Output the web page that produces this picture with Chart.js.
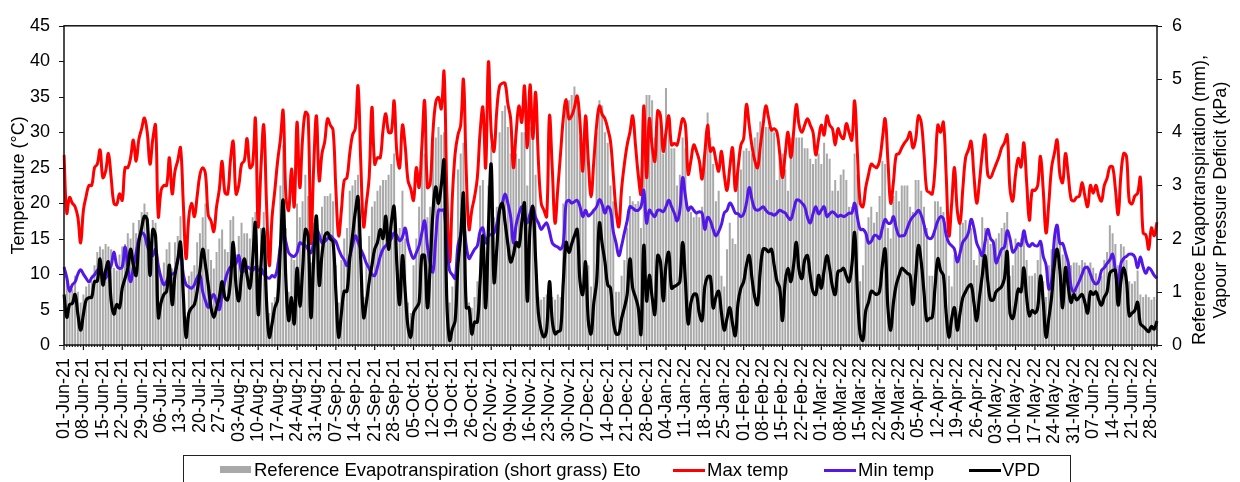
<!DOCTYPE html>
<html>
<head>
<meta charset="utf-8">
<script src="https://cdn.jsdelivr.net/npm/chart.js@4.4.1/dist/chart.umd.min.js"></script>
<style>
  html, body { margin: 0; padding: 0; background: #fff; overflow: hidden; }
  #wrap { position: relative; width: 1240px; height: 482px; font-family: "Liberation Sans", Arial, sans-serif; }
  #chart { position: absolute; left: 0; top: 0; }
  .legendBox { position: absolute; left: 183px; top: 455px; width: 888px; height: 40px; border: 1px solid #222; box-sizing: border-box; }
  .legItem { position: absolute; top: 461px; font-size: 18.5px; line-height: 18.5px; color: #000; white-space: nowrap; }
  .swatch { position: absolute; }
</style>
</head>
<body>
<div id="wrap">
  <canvas id="chart" width="1240" height="482"></canvas>
  <div class="legendBox"></div>
  <div class="swatch" style="left:220px;top:466px;width:31px;height:7px;background:#a9a9a9"></div>
  <div class="legItem" style="left:254px">Reference Evapotranspiration (short grass) Eto</div>
  <div class="swatch" style="left:673px;top:469px;width:32px;height:3px;background:#ff0000"></div>
  <div class="legItem" style="left:707px">Max temp</div>
  <div class="swatch" style="left:824px;top:469px;width:32px;height:3px;background:#5318e8"></div>
  <div class="legItem" style="left:858px">Min temp</div>
  <div class="swatch" style="left:969px;top:469px;width:32px;height:3px;background:#000"></div>
  <div class="legItem" style="left:1002px">VPD</div>
</div>
<script>
// daily series, 01-Jun-21 .. 30-Jun-22
var startDate = new Date(2021, 5, 1);
var dayCount = 395;
var monthNames = ["Jan","Feb","Mar","Apr","May","Jun","Jul","Aug","Sep","Oct","Nov","Dec"];

var maxTemp = [
  26.8,18.6,20.8,20,19.5,18,14.4,19,21,22.5,
  22.5,25,25.5,27.5,23.6,24.5,27,23.6,20,19.8,
  21.3,20.4,25,25,26.4,28.9,25.9,29,30.5,32,
  30,25.5,29,31,18.1,21.8,22.5,22.5,26.4,21.3,
  24.5,26,27.8,20,12.2,18,20,18.1,21,24,
  25,24.1,18.3,17.5,16,19.5,22,25.9,21.5,21.3,
  26,28.7,21.3,22.5,25.5,26,29.1,25,25.5,31.9,
  16.7,25,31,20,11.2,18,21.8,25.9,29,33,
  20.9,19,24.8,19.5,31.4,22.2,29.1,32.8,32.3,14.4,
  25,32.3,23.2,27,28.7,31.9,31,30.3,22,15.4,
  19,23.2,23.6,27,29.6,30.5,36.5,25.5,16.7,20,
  23.6,33.5,25.5,26.4,26.4,30.3,32.6,30,30,34.4,
  27,25,31,28,23.2,22,20.4,25,22.2,28,
  34.4,22.2,22.7,30,34.2,34.9,33.3,38.5,21.8,11.7,
  20.9,27,29.6,31,37.4,24.5,16.3,19,20.9,23.6,
  30,33.5,25,39.9,30,27.3,33,36.5,36.9,36.9,
  34,31.9,25,30,33.7,31.4,36.5,27.8,36.7,29.1,
  35.6,26,20,19,18.1,32.3,25,17.2,22,27,
  32,34.6,31.9,32.3,33.5,35.1,31.4,24.5,32.3,26,
  20.9,26,31,33.7,32.5,31.9,30.5,28.7,24,19,
  16.7,22,25.5,28.2,30,32.3,28.2,24,21.3,33.7,
  23.6,31.9,28,25.9,33,32.3,27.3,30,32.3,28.2,
  28.4,28.2,30,31.9,31,24.1,26,28.2,27.3,26,
  23.4,27,31,27.3,27.8,26,24.5,27.3,24,21.8,
  25,27.8,21.8,25,28.2,29.1,33.9,31,28,26,
  25,28,31,33.7,32,30.3,30.5,30,27,23.6,
  27,30,26.4,30,33.9,31,30,31,31.9,31,
  30,26.8,29,31,29.6,32.3,31,30.5,28.2,30.5,
  29.5,29.1,31.2,30,28.9,34.4,27,20,19.5,22.2,
  24,25.5,25.2,25,26,29,31.9,26,20,23,
  26.8,27,27.8,28.5,29,30,27.8,29,32.3,31.4,
  27,21.8,21.5,21.3,25,31,30,31.4,24,15.4,
  20,25,19,17.2,22,26.4,27.5,28.7,24,20,
  23,27,29.6,24,23.6,24.5,25.5,26.5,27.8,28.5,
  29.6,22,20.3,24,26.3,25.1,28.5,23,17.6,21.8,
  21.8,22.5,26.6,21.8,15.8,20,25,27,28.9,24,
  22.9,27,24,20.6,20.3,20.8,21,22.9,21,19.5,
  22.5,21.4,22.5,21,20.3,22.5,23.5,25.1,25.1,22,
  18.4,24,27,26.6,20.3,19.9,21,21.4,23.6,15.8,
  15.5,13.5,16.5,15.4,17.3
];

var minTemp = [
  11,9.5,7.6,8.5,8.9,10,10.6,10,9.4,8.9,
  9.5,9.9,10.5,10.8,10,9.4,10.5,11.2,13.1,11.2,
  10.8,11,13.8,11,8.9,11,13,15,15.8,15.5,
  14,13,12.6,13.5,11.2,9.5,8.5,9,9.9,10,
  10.3,12,13.1,10,8.5,8.2,8,8.5,9.5,9.9,
  7.5,6.2,5.3,6.5,7.1,6,5,7.1,9,10.3,
  11,11.2,11.5,12.6,10.3,10.5,11,10.8,10.5,11,
  10.5,10.8,10,9.6,9.4,9.8,9.6,11,14,15.8,
  14.5,13,12.6,12.5,13,14.4,14.2,14,13.5,13,
  14.5,16.3,15.5,14.4,14.6,15,15.4,15,14.6,13.5,
  12.6,12,11.2,12.5,14,15.4,14.5,13.5,12.6,11.5,
  10.8,10,9.8,11,12.5,13.5,14,14.4,15,15.8,
  15.4,14.7,15.2,16.5,14.4,13,12.2,13,14,15.8,
  17.5,14,11.5,10.3,15,19,19,19,14,10.5,
  9.9,9.4,14,15.5,17.2,14,12.2,12.8,13.5,14,
  16,16.5,14.4,15.4,15.6,15.8,17,19,20,21.3,
  20,18.1,14.4,17,18.5,19.5,18.5,17.2,18.5,19.5,
  18,17.2,16.3,16.8,17.2,16,14.4,14,13.8,13.5,
  14.4,20,20.4,20,20.2,20.4,19.5,18.1,19,18.2,
  18.5,19,19.5,20.5,19.8,18.6,19.5,19,16,14.4,
  12.6,14,15.8,17.5,19.5,19.3,19,19,19.5,21.8,
  17.2,19,18.5,18.1,19,19,18.8,19.5,20.4,19.5,
  18.6,17.5,19,23.6,21,19,19.5,19,18.6,18.8,
  18.6,16.3,18,17.5,16.3,15.4,16,17,18.6,19,
  20,19.5,18.6,18.5,18.1,18.5,20,22.2,20.5,19.2,
  19,19.2,19.5,19,18.6,18.5,18.3,18.6,19,18.8,
  18.6,18,17.7,19,20.4,20.4,20,19.5,18,17.2,
  18.5,19.5,18.5,19,19.5,18.1,18.5,18.8,18.5,18.1,
  18.3,18.1,18.3,18.6,18.6,20,18,16.3,16.3,15.8,
  14.4,14.6,15.4,15.4,15,16.5,17.7,17.2,17.2,18.1,
  16.5,15.4,15.4,15.5,16.5,17.5,18.1,18.5,19,18.3,
  17,15.4,15,15.2,16.3,17.5,18.1,17.8,15.5,14.4,
  14,13.5,11.7,13,14.5,15,15.8,17.7,16.5,14.4,
  13.5,12.6,14.5,16.3,15,14.5,11.6,12.5,13.5,13.8,
  16.1,15,13.1,13.5,14.3,14,16.1,14.5,13.9,14.3,
  14,14,14.6,12.5,11.3,7.9,9,15,16.9,14.3,
  14.3,13,11.6,8.3,7.5,8.2,9,10,10.9,10.9,
  10,9,8.6,9,10.5,10.9,11.5,12,12.8,10.5,
  8.3,11.5,12.2,12.5,12.8,12.8,12.4,10.9,12.4,11,
  10.1,10.9,10.5,9.8,9.4
];

var vpd = [
  0.95,0.52,0.76,0.78,0.95,0.58,0.28,0.58,0.85,0.89,
  0.9,1.19,1.2,1.62,1.13,1.4,1.56,0.83,0.58,0.76,
  0.7,1.07,1.25,1.44,1.8,1.5,1.31,1.93,2.2,2.42,
  2.35,1.31,2.17,2.05,0.52,0.8,0.95,1.01,1.5,0.76,
  1.31,1.6,1.93,0.95,0.15,0.6,0.7,0.76,1.01,1.4,
  1.8,1.5,1.13,0.7,0.52,0.7,0.9,1.19,0.89,0.85,
  1.2,1.93,1.13,0.83,1.3,1.62,1.3,1.07,1.6,2.29,
  0.58,1.5,2.17,0.83,0.15,0.4,0.7,0.85,1.8,2.72,
  1.2,0.46,0.89,0.4,1.44,0.73,1.4,2.17,2.05,0.52,
  1.6,2.42,1.13,1.7,2.05,2.11,2,1.93,1,0.15,
  0.6,1.01,1.01,1.62,2.05,2.5,2.78,1.56,0.52,0.8,
  1.19,1.5,1.8,1.93,2.17,2,2.42,1.8,2.3,2.6,
  1.5,0.76,1.68,1,0.34,0.15,0.6,0.7,0.8,1.68,
  1.68,0.7,1.5,2.5,2.97,2.66,3,3.46,0.83,0.09,
  0.3,0.46,1.5,2.05,2.84,0.7,0.7,0.21,0.43,0.43,
  1.2,2.05,0.7,2.2,3.39,1.19,1.8,2.54,2.66,2.3,
  1.9,1.56,1.7,1.93,1.85,2.3,2.66,0.83,2.2,2.6,
  1.62,0.6,0.28,0.15,0.3,1.19,0.46,0.21,0.25,0.28,
  1.2,1.93,1.74,1.9,2.05,2.17,1.2,0.95,1.56,0.46,
  0.21,0.8,1.19,2.29,1.9,1.56,1.13,1.07,0.46,0.21,
  0.21,0.5,0.7,0.95,1.62,1.07,0.9,0.7,0.21,1.87,
  0.83,1.31,0.9,0.58,1.68,1.56,0.83,1.5,1.74,1.07,
  1.1,1.13,1.19,1.93,1.2,0.4,0.8,0.95,0.95,0.6,
  0.46,1.1,1.28,1.28,0.7,0.9,1.01,0.6,0.28,0.5,
  0.7,0.4,0.18,0.8,1.07,1.19,1.5,1.68,1.25,0.9,
  0.76,1.4,1.8,1.8,1.75,1.8,1.5,1.2,1.07,0.46,
  1.2,1.44,1.19,1.5,1.93,1.4,1.25,1.6,1.68,1.3,
  1,0.95,1.31,1.07,1.4,1.68,1.44,1.1,0.95,1.38,
  1.4,1.44,1.3,1.19,1.5,2.11,1,0.2,0.09,0.64,
  0.8,1.01,0.98,0.95,1.01,1.5,1.8,0.7,0.28,0.8,
  1.13,1.3,1.44,1.4,1.35,1.31,0.76,1.3,1.87,1.56,
  1,0.46,0.5,0.52,1.1,1.62,1.4,1.31,0.6,0.15,
  0.5,0.7,0.28,0.6,0.89,1,1.1,1.13,0.8,0.46,
  0.9,1.3,1.68,1.2,0.85,0.85,1,1.05,1.1,1.25,
  1.75,0.6,0.5,0.75,1.05,1,1.45,0.9,0.55,0.65,
  0.6,0.7,1.3,0.8,0.15,0.5,0.9,1.5,1.8,1.4,
  0.7,1.45,1.1,0.8,0.95,0.85,0.9,0.95,0.8,0.6,
  1,0.95,1,0.85,0.75,0.9,1,1.35,1.4,1.4,
  0.75,1.2,1.45,1.2,0.55,0.6,0.65,0.8,0.4,0.35,
  0.3,0.25,0.35,0.3,0.45
];

var eto = [
  1.3,1.25,1.1,1.05,1.3,1,0.8,0.95,1.1,1.15,
  1.2,1.5,1.75,1.85,1.8,1.9,1.85,1.8,1.45,1.4,
  1.7,1.85,1.9,2.1,2,2.3,2.1,2.35,2.5,2.66,
  2.5,1.55,2.35,2.3,1.44,1.3,1.55,1.8,1.93,1.44,
  1.93,2.05,2.42,1.25,0.52,1.3,1.38,1.5,1.93,2.1,
  2.4,2.66,1.8,1.6,1.44,1.75,2,2.17,1.8,1.75,
  2.35,2.42,1.7,2.05,2.3,2.1,2.1,2,2.4,2.5,
  1.5,2.2,2.5,1,0.6,0.8,0.9,1.55,3,3.76,
  2.2,1,1.7,1.6,2.66,2.4,2.7,3.2,2.8,1.55,
  2.3,2.42,2.1,2.6,2.8,2.8,2.85,2.7,1.5,0.8,
  1.6,2,2.2,2.9,3,3.1,3.2,2,0.9,1.5,
  2.05,2.6,2.7,2.9,3,3.1,3.1,3.2,3.4,3.6,
  1.6,2.2,2.9,2,0.8,0.6,1.5,2,2.6,3.6,
  3.6,2.4,2.6,3.8,3.9,4.1,3.95,4,0.95,0.8,
  1.1,1.3,3.3,3.6,3.8,0.9,0.8,0.7,0.9,1.2,
  3,3.1,1.4,3,3.75,2.4,2.6,4,4.4,4.5,
  4.1,3.6,3.4,3.6,3.5,4,4,3,4.1,4.1,
  3.2,0.9,0.85,0.9,0.95,1.1,0.9,0.85,0.95,0.9,
  2.66,4.6,4.6,4.7,4.86,4.7,3.9,3.8,4,1.5,
  1.1,2.5,4,4.6,4.5,4,3.8,3,2.7,1,
  1,1.3,1.6,2.2,2.8,2.7,2.65,2.7,2.2,4.5,
  4.7,4.7,4.6,3.9,4.2,4.4,3.6,4.83,4.2,3.7,
  3.7,3,3.2,3.9,3.7,2.6,2.5,2.4,2.5,2.4,
  2.6,3.7,4.37,3.9,3.4,2.7,2.9,1.3,1.1,1.8,
  2.3,2,1.9,3.2,3.3,3.65,3.7,3.65,3.6,3.9,
  4,4.2,4.2,4.1,4.1,4.1,4,3.1,3.5,3.6,
  3.3,2.9,3.9,4,3.9,3.9,3.9,3.7,3.7,3.5,
  3.4,3.5,3.6,3.4,3.8,3.6,3.5,2.9,3.1,2.9,
  3.2,3.3,3.1,2.6,2.6,3.6,3.2,1.2,1.5,2.1,
  2.4,2.6,2.3,2.5,2.8,3.46,3.4,2.2,2,2.8,
  2.9,2.7,3,3,3,2.6,2.5,3.1,3.1,2.9,
  2.6,2.2,1.3,1.3,2.7,2.7,2.6,2.5,2,1.3,
  1.1,1.7,1.6,2.35,2.3,2.35,2.1,2.2,1.6,1.5,
  1.8,2.4,2.2,2,1.9,1.9,2,2.1,2.2,2.3,
  2.5,1.3,1.5,2,1.9,2,2,1.6,1.3,1.3,
  1.35,1.6,1.9,1.2,0.9,1.5,1.8,2,2.15,1.9,
  1.7,1.75,1.6,1.5,1.55,1.55,1.5,1.6,1.55,1.5,
  1.55,1.45,1.35,1.2,1.3,1.6,1.75,2.25,2.1,1.9,
  1.5,1.9,1.85,1.6,1.2,1.15,1.2,1.4,0.95,0.9,
  0.95,0.9,0.85,0.9,0.85
];

var leftTitle = "Temperature (\u00B0C)";
var rightTitle = ["Reference Evapotranspiration (mm),", "Vapour Pressure Deficit (kPa)"];

var dayLabels = [];
for (var i = 0; i < dayCount; i++) {
  var d = new Date(startDate.getFullYear(), startDate.getMonth(), startDate.getDate() + i);
  var dd = ("0" + d.getDate()).slice(-2);
  var yy = String(d.getFullYear()).slice(-2);
  dayLabels.push(dd + "-" + monthNames[d.getMonth()] + "-" + yy);
}

var fontFam = "'Liberation Sans', Arial, sans-serif";
Chart.defaults.font.family = fontFam;
Chart.defaults.font.size = 18;
Chart.defaults.color = "#000";

// frame, tick marks and axis titles
var framePlugin = {
  id: "frame",
  afterDraw: function (chart) {
    var ctx = chart.ctx;
    var a = chart.chartArea;
    var xs = chart.scales.x, yl = chart.scales.y, yr = chart.scales.y1;
    ctx.save();
    ctx.strokeStyle = "#111";
    ctx.lineWidth = 1.5;
    ctx.strokeRect(a.left, a.top, a.right - a.left, a.bottom - a.top);
    ctx.lineWidth = 1.2;
    ctx.beginPath();
    for (var v = 0; v <= 45; v += 5) {
      var py = Math.round(yl.getPixelForValue(v)) + 0.5;
      ctx.moveTo(a.left - 5, py); ctx.lineTo(a.left, py);
    }
    for (var w = 0; w <= 6; w++) {
      var qy = Math.round(yr.getPixelForValue(w)) + 0.5;
      ctx.moveTo(a.right, qy); ctx.lineTo(a.right + 5, qy);
    }
    for (var k = 0; k < dayCount; k++) {
      var px = xs.getPixelForValue(k);
      ctx.moveTo(px, a.bottom); ctx.lineTo(px, a.bottom + (k % 7 === 0 ? 5 : 2));
    }
    ctx.stroke();

    ctx.fillStyle = "#000";
    ctx.textAlign = "center";
    ctx.textBaseline = "middle";
    ctx.font = "18px " + fontFam;
    ctx.save();
    ctx.translate(19, (a.top + a.bottom) / 2);
    ctx.rotate(-Math.PI / 2);
    ctx.fillText(leftTitle, 0, 0);
    ctx.restore();
    ctx.save();
    ctx.translate(1200, 200);
    ctx.rotate(-Math.PI / 2);
    ctx.fillText(rightTitle[0], 0, 0);
    ctx.fillText(rightTitle[1], 0, 21);
    ctx.restore();
    ctx.restore();
  }
};

new Chart(document.getElementById("chart"), {
  data: {
    labels: dayLabels,
    datasets: [
      {
        type: "bar",
        label: "Reference Evapotranspiration (short grass) Eto",
        data: eto,
        yAxisID: "y1",
        backgroundColor: "#a9a9a9",
        barPercentage: 1,
        categoryPercentage: 0.72,
        order: 4
      },
      {
        type: "line",
        label: "Max temp",
        data: maxTemp,
        yAxisID: "y",
        borderColor: "#ff0000",
        borderWidth: 3,
        pointRadius: 0,
        tension: 0.4,
        order: 3
      },
      {
        type: "line",
        label: "Min temp",
        data: minTemp,
        yAxisID: "y",
        borderColor: "#5318e8",
        borderWidth: 3,
        pointRadius: 0,
        tension: 0.4,
        order: 2
      },
      {
        type: "line",
        label: "VPD",
        data: vpd,
        yAxisID: "y1",
        borderColor: "#000000",
        borderWidth: 3.2,
        pointRadius: 0,
        tension: 0.4,
        order: 1
      }
    ]
  },
  options: {
    responsive: false,
    animation: false,
    devicePixelRatio: 1,
    events: [],
    layout: { padding: { top: 18, left: 0, right: 0, bottom: 0 } },
    plugins: { legend: { display: false }, tooltip: { enabled: false } },
    scales: {
      x: {
        type: "category",
        offset: false,
        grid: { display: false, drawTicks: false },
        border: { display: false },
        ticks: {
          autoSkip: false,
          maxRotation: 90,
          minRotation: 90,
          padding: 13,
          callback: function (val, idx) { return idx % 7 === 0 ? dayLabels[idx] : ""; }
        },
        afterFit: function (s) { s.height = 137; }
      },
      y: {
        position: "left",
        min: 0, max: 45,
        grid: { display: false, drawTicks: false },
        border: { display: false },
        ticks: { stepSize: 5, padding: 14 },
        afterFit: function (s) { s.width = 64; }
      },
      y1: {
        position: "right",
        min: 0, max: 6,
        grid: { display: false, drawTicks: false },
        border: { display: false },
        ticks: { stepSize: 1, padding: 15 },
        afterFit: function (s) { s.width = 83; }
      }
    }
  },
  plugins: [framePlugin]
});
</script>
</body>
</html>
